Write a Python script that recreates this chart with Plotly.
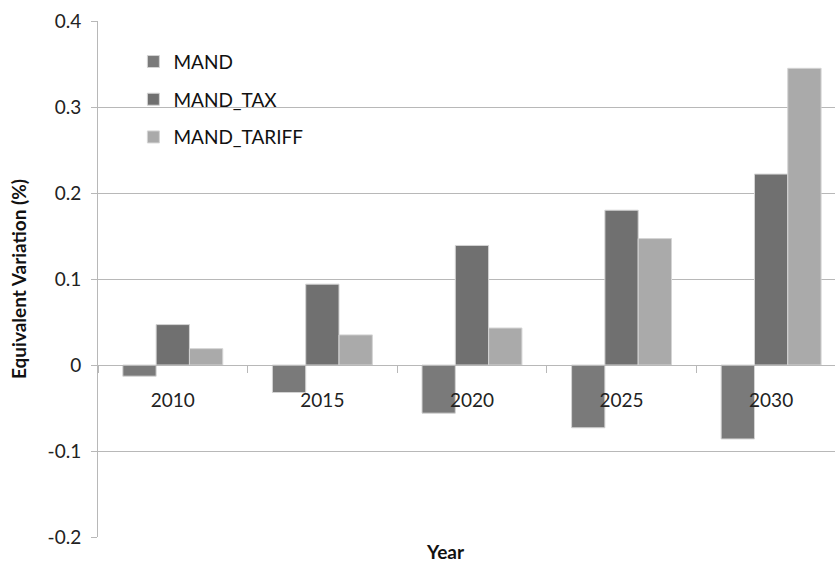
import plotly.graph_objects as go

years = ["2010", "2015", "2020", "2025", "2030"]
mand = [-0.013, -0.032, -0.056, -0.073, -0.086]
mand_tax = [0.047, 0.094, 0.139, 0.180, 0.222]
mand_tariff = [0.019, 0.035, 0.043, 0.147, 0.345]

series = [
    ("MAND", mand, "#7a7a7a"),
    ("MAND_TAX", mand_tax, "#707070"),
    ("MAND_TARIFF", mand_tariff, "#aaaaaa"),
]

FONT = "Lato"
GRID = "#b8b8b8"

fig = go.Figure()
for i, (name, vals, color) in enumerate(series):
    fig.add_trace(go.Bar(
        x=years, y=vals, name=name,
        legendgroup=f"g{i}",
        marker=dict(color=color, line=dict(color="#d4d4d4", width=1)),
    ))

fig.update_layout(
    width=835, height=562,
    margin=dict(l=98, r=0, t=21, b=25),
    paper_bgcolor="white", plot_bgcolor="white",
    barmode="group", bargap=0.332, bargroupgap=0,
    font=dict(family=FONT, size=19, color="#222222"),
    showlegend=True,
    legend=dict(
        x=0.048, y=0.958, xanchor="left", yanchor="top",
        bgcolor="rgba(0,0,0,0)", font=dict(family=FONT, size=19, color="#111111"),
        tracegroupgap=10, traceorder="grouped",
    ),
    xaxis=dict(
        type="category", range=[-0.5, 4.427],
        anchor="free", position=1/3,
        showline=True, linecolor=GRID, linewidth=1,
        ticks="outside", tickson="boundaries", ticklen=7, tickcolor=GRID,
        showgrid=False, ticklabelstandoff=18,
        tickfont=dict(family=FONT, size=19, color="#222222"),
    ),
    yaxis=dict(
        range=[-0.2, 0.4], tickvals=[-0.2, -0.1, 0, 0.1, 0.2, 0.3, 0.4],
        ticktext=["-0.2", "-0.1", "0", "0.1", "0.2", "0.3", "0.4"],
        showgrid=True, gridcolor=GRID, gridwidth=1,
        zeroline=False,
        showline=True, linecolor=GRID, linewidth=1,
        ticks="outside", ticklen=6, tickcolor=GRID,
        ticklabelstandoff=6,
        tickfont=dict(family=FONT, size=19, color="#222222"),
        title=dict(text="<b>Equivalent Variation (%)</b>",
                   font=dict(family=FONT, size=19, color="#111111"), standoff=15),
    ),
    annotations=[dict(
        text="<b>Year</b>", xref="paper", yref="paper",
        x=0.471, y=0, yshift=-14, showarrow=False, yanchor="middle",
        font=dict(family=FONT, size=19, color="#111111"),
    )],
)

fig.write_html("out.html")
